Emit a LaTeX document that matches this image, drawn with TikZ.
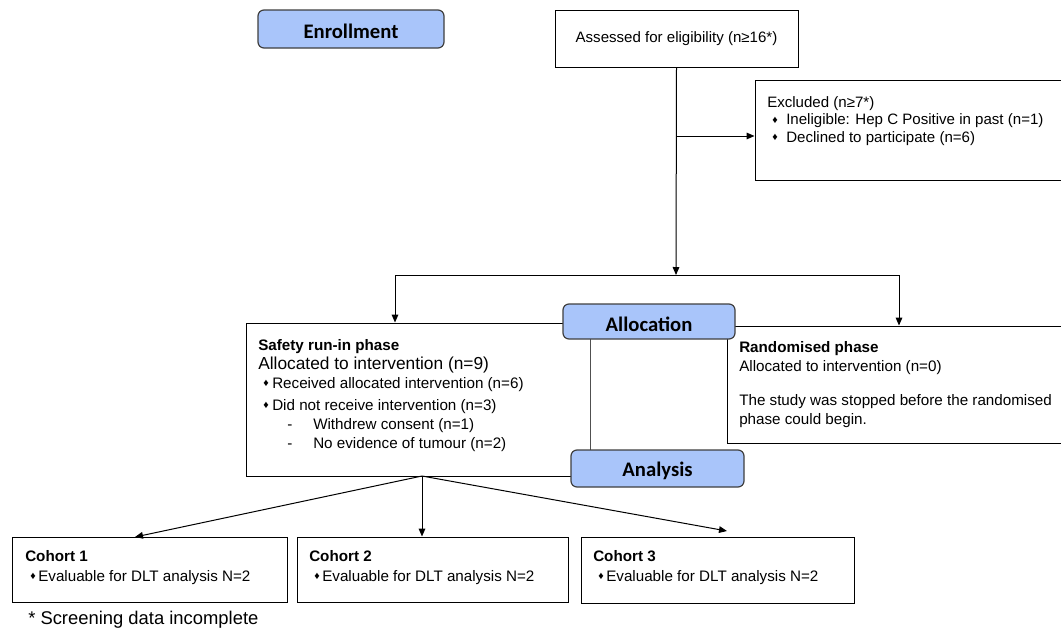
\documentclass[tikz,border=0pt]{standalone}
\usepackage{fontspec}
\setmainfont{Liberation Sans}
\newfontfamily\hdrfont{Carlito}
\usetikzlibrary{arrows.meta,fit}
\definecolor{hdrblue}{HTML}{A9C5FA}
\definecolor{hdrline}{HTML}{3F3F3F}
\definecolor{midgray}{HTML}{505050}
\newcommand{\bul}{\raisebox{0.2ex}{\fontsize{8}{8}\selectfont ♦}}
\begin{document}
\begin{tikzpicture}[x=0.75pt,y=-0.75pt,
  box/.style={draw=black, line width=0.75pt, inner sep=0pt},
  hdr/.style={draw=hdrline, fill=hdrblue, rounded corners=4.5pt, line width=0.9pt, inner sep=0pt},
  hdrtext/.style={font=\hdrfont\bfseries\fontsize{15.5}{18}\selectfont, inner sep=0pt, yshift=-1.8pt},
  txt/.style={inner sep=0pt, align=left, anchor=north west, font=\fontsize{11.4}{14.25}\selectfont},
  arr/.style={-{Triangle[length=6pt,width=5pt]}, line width=0.75pt},
  conn/.style={line width=0.75pt}]
\useasboundingbox (0,0) rectangle (1061,629);
\clip (0,0) rectangle (1061,629);

% boxes
\node[box, fit={(555,10) (798,67)}] (assess) {};
\node[inner sep=0pt, font=\fontsize{11.3}{14}\selectfont] (assesst) at (assess.center) {Assessed for eligibility (n≥16*)};

\node[box, fit={(755,80) (1064,180)}] (excl) {};
\node[txt, font=\fontsize{11.3}{13.1}\selectfont] (exclt) at (767,96) {Excluded (n≥7*)\\
\hspace*{3.75pt}\makebox[10.5pt][l]{\bul}Ineligible: Hep C Positive in past (n=1)\\
\hspace*{3.75pt}\makebox[10.5pt][l]{\bul}Declined to participate (n=6)};

\node[box, fit={(246,323) (590,476)}] (safety) {};
\node[txt] (safetyt) at (258,339) {\textbf{Safety run-in phase}\\
{\fontsize{13}{14.25}\selectfont Allocated to intervention (n=9)}\\
\hspace*{3.75pt}\makebox[6.75pt][l]{\bul}Received allocated intervention (n=6)\\[2.25pt]
\hspace*{3.75pt}\makebox[6.75pt][l]{\bul}Did not receive intervention (n=3)\\
\hspace*{21.75pt}\makebox[19.5pt][l]{-}Withdrew consent (n=1)\\
\hspace*{21.75pt}\makebox[19.5pt][l]{-}No evidence of tumour (n=2)};

\node[box, fit={(727,326) (1064,443)}] (rand) {};
\node[txt] (randt) at (739,341) {\textbf{Randomised phase}\\
Allocated to intervention (n=0)\\[11.25pt]
The study was stopped before the randomised\\
phase could begin.};

\draw[midgray, line width=1.1pt] (safety.north east) -- (safety.south east);

\node[box, fit={(12,537) (287,602)}] (c1) {};
\node[box, fit={(297,537) (568,602)}] (c2) {};
\node[box, fit={(581,537) (854,603)}] (c3) {};
\node[txt, font=\fontsize{11.4}{15}\selectfont] (c1t) at (25,550) {\textbf{Cohort 1}\\
\hspace*{3.75pt}\makebox[6pt][l]{\bul}Evaluable for DLT analysis N=2};
\node[txt, font=\fontsize{11.4}{15}\selectfont] (c2t) at (309,550) {\textbf{Cohort 2}\\
\hspace*{3.75pt}\makebox[6pt][l]{\bul}Evaluable for DLT analysis N=2};
\node[txt, font=\fontsize{11.4}{15}\selectfont] (c3t) at (593,550) {\textbf{Cohort 3}\\
\hspace*{3.75pt}\makebox[6pt][l]{\bul}Evaluable for DLT analysis N=2};

% headers
\node[hdr, fit={(258,10) (444,48)}] (enr) {};
\node[hdrtext] (enrt) at (enr.center) {Enrollment};
\node[hdr, fit={(563,304) (735,339)}] (alloc) {};
\node[hdrtext] (alloct) at (alloc.center) {Allocation};
\node[hdr, fit={(571,450) (744,487)}] (anal) {};
\node[hdrtext] (analt) at (anal.center) {Analysis};

% connectors
\coordinate (split) at (676,275);
\coordinate (br) at (676,136);
\coordinate (lft) at (395,275);
\coordinate (rgt) at (899,275);
\coordinate (fan) at (422,476);
\coordinate (t1) at (135,537);
\coordinate (t3) at (727,531);
\draw[arr] (assess.south) -- (split);
\draw[arr] (br) -- (excl.west |- br);
\draw[conn] (lft) -- (rgt);
\draw[arr] (lft) -- (safety.north -| lft);
\draw[arr] (rgt) -- (rand.north -| rgt);
\draw[arr] (fan) -- (t1);
\draw[arr] (fan) -- (c2.north -| fan);
\draw[arr] (fan) -- (t3);

% footnote
\node[inner sep=0pt, anchor=west, font=\fontsize{13.8}{16}\selectfont] (foot) at (28,620) {* Screening data incomplete};
\end{tikzpicture}
\end{document}
